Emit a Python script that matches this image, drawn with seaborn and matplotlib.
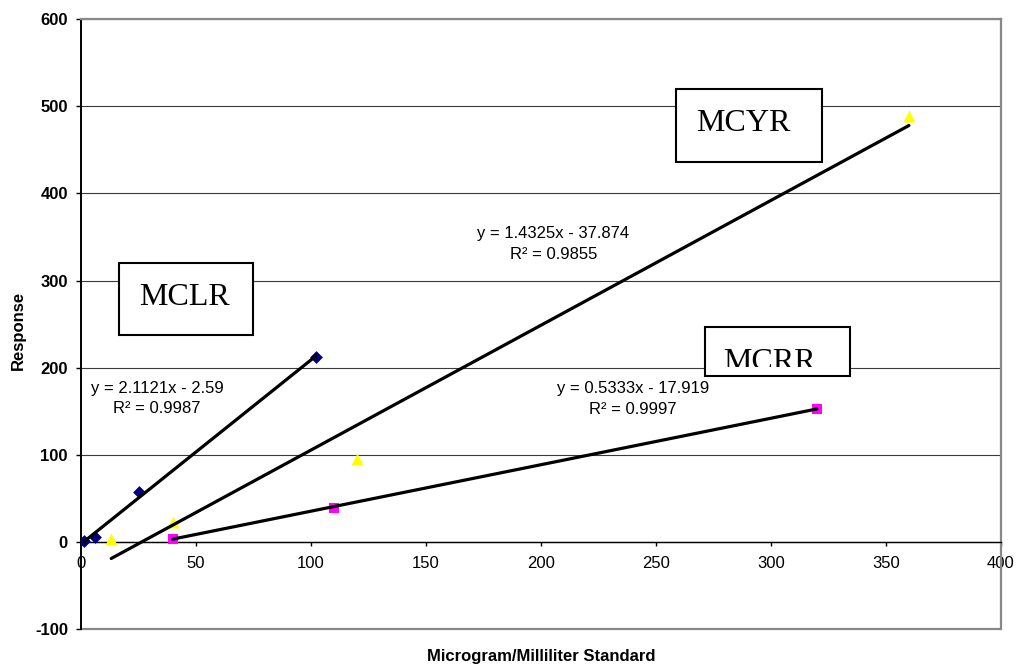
import numpy as np
import pandas as pd
import matplotlib
matplotlib.use("Agg")
import matplotlib.pyplot as plt
from matplotlib.patches import Rectangle
import seaborn as sns

# Calibration standards (concentration vs. detector response)
mclr_conc = [1.6, 6.4, 25.6, 102.4]
mclr_resp = [1.5, 6.0, 57.0, 212.0]
mcyr_conc = [13.33, 40.0, 120.0, 360.0]
mcyr_resp = [4.0, 23.0, 95.0, 489.0]
mcrr_conc = [40.0, 110.0, 320.0]
mcrr_resp = [4.0, 39.0, 153.0]

# Linear trendline fits (slope, intercept, R²)
mclr_fit = (2.1121, -2.59, 0.9987)
mcyr_fit = (1.4325, -37.874, 0.9855)
mcrr_fit = (0.5333, -17.919, 0.9997)

series_names = ["MCLR", "MCYR", "MCRR"]
x_ticks = [0, 50, 100, 150, 200, 250, 300, 350, 400]
y_ticks = [-100, 0, 100, 200, 300, 400, 500, 600]
x_title = "Microgram/Milliliter Standard"
y_title = "Response"

sns.set_style("white")
plt.rcParams["font.family"] = ["Liberation Sans", "DejaVu Sans"]
plt.rcParams["axes.unicode_minus"] = False
plt.rcParams["text.color"] = "black"
plt.rcParams["axes.labelcolor"] = "black"
plt.rcParams["xtick.color"] = "black"
plt.rcParams["ytick.color"] = "black"

fig = plt.figure(figsize=(10.18, 6.68), dpi=100)
ax = fig.add_axes([0.0791, 0.0579, 0.9042, 0.9137])

# standards as markers
sns.scatterplot(x=mclr_conc, y=mclr_resp, ax=ax, marker="D", s=36,
                color="#000080", edgecolor="#000080", linewidth=0.5, zorder=3)
sns.scatterplot(x=mcyr_conc, y=mcyr_resp, ax=ax, marker="^", s=75,
                color="#FFFF00", edgecolor="#FFFF00", linewidth=0, zorder=3)
sns.scatterplot(x=mcrr_conc, y=mcrr_resp, ax=ax, marker="s", s=60,
                color="#FF00FF", edgecolor="#FF00FF", linewidth=0, zorder=3)

# trendlines spanning each series' concentration range
for conc, fit in [(mclr_conc, mclr_fit), (mcyr_conc, mcyr_fit), (mcrr_conc, mcrr_fit)]:
    xs = np.array([min(conc), max(conc)])
    ys = fit[0] * xs + fit[1]
    sns.lineplot(x=xs, y=ys, ax=ax, color="black", linewidth=2.3, zorder=4)

ax.set_xlim(0, 400)
ax.set_ylim(-100, 600)
ax.set_xticks(x_ticks)
ax.set_yticks(y_ticks)
ax.set_xticklabels([str(v) for v in x_ticks])
ax.set_yticklabels([str(v) for v in y_ticks], fontweight="bold")

ax.grid(axis="y", color="#3a3a3a", linewidth=0.8)
ax.grid(axis="x", visible=False)
ax.set_axisbelow(True)

ax.spines["left"].set_color("black")
ax.spines["left"].set_linewidth(1.4)
ax.spines["bottom"].set_position(("data", 0))
ax.spines["bottom"].set_color("black")
ax.spines["bottom"].set_linewidth(1.0)
ax.spines["top"].set_color("#888888")
ax.spines["top"].set_linewidth(1.6)
ax.spines["right"].set_color("#888888")
ax.spines["right"].set_linewidth(1.6)
ax.axhline(-100, color="#888888", linewidth=1.6, zorder=2, clip_on=False)

ax.tick_params(axis="y", direction="out", length=3.6, width=1, color="black",
               pad=5.5, left=True, labelsize=12, labelcolor="black")
ax.tick_params(axis="x", direction="out", length=3.0, width=1, color="black",
               pad=7, bottom=True, labelsize=12, labelcolor="black")

ax.set_xlabel(x_title, fontsize=12, fontweight="bold")
ax.xaxis.set_label_coords(0.5, -0.044)
ax.xaxis.label.set_verticalalignment("center")
ax.set_ylabel(y_title, fontsize=12, fontweight="bold")
ax.yaxis.set_label_coords(-0.068, 0.49)
ax.yaxis.label.set_verticalalignment("center")

# trendline equations
eq_pos = [(33.2, 164.5), (205.4, 342.0), (240.2, 164.3)]
for (ex, ey), fit in zip(eq_pos, [mclr_fit, mcyr_fit, mcrr_fit]):
    ax.text(ex, ey, f"y = {fit[0]:.4f}x - {abs(fit[1]):g}\nR² = {fit[2]:.4f}",
            ha="center", va="center", multialignment="center",
            fontsize=12, linespacing=1.45, zorder=5)

# series name boxes
boxes = [
    ((16.7, 237.0), 75.0 - 16.7, 320.7 - 237.0, (45.4, 272.5), None),
    ((258.9, 435.9), 322.2 - 258.9, 519.7 - 435.9, (288.0, 471.1), None),
    ((271.5, 190.7), 334.3 - 271.5, 246.2 - 190.7, (299.3, 197.8), 200.5),
]
for name, (xy, w, h, tpos, clip_y) in zip(series_names, boxes):
    ax.add_patch(Rectangle(xy, w, h, facecolor="white", edgecolor="black",
                           linewidth=1.5, zorder=6))
    t = ax.text(tpos[0], tpos[1], name, ha="center", va="baseline",
                fontsize=23, family="Liberation Serif", zorder=7, clip_on=True)
    if clip_y is not None:
        clip = Rectangle((xy[0], clip_y), w, xy[1] + h - clip_y,
                         transform=ax.transData, facecolor="none", edgecolor="none")
        t.set_clip_path(clip)

fig.savefig("out.png", dpi=100)
